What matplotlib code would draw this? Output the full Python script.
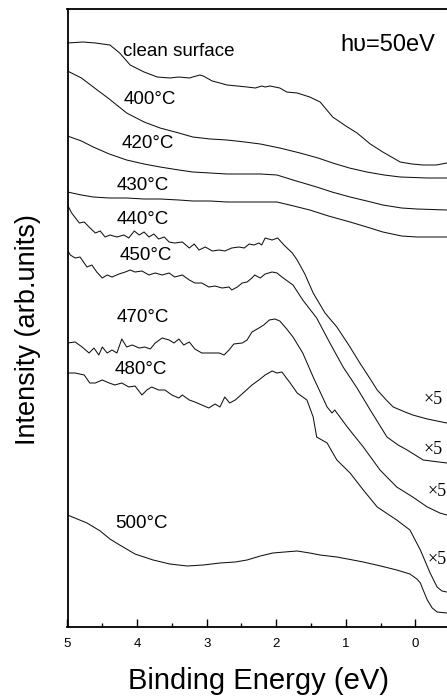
import matplotlib
matplotlib.use("Agg")
import matplotlib.pyplot as plt
from matplotlib.ticker import MultipleLocator

plt.rcParams['font.family'] = ['Liberation Sans', 'DejaVu Sans']

# ---- data: binding energy (eV) and intensity (arb. units, offset stacks) ----
e_clean = [5.00, 4.78, 4.60, 4.39, 4.25, 4.10, 3.90, 3.71, 3.53, 3.40, 3.25, 3.10, 3.05, 2.92, 2.81, 2.71,
           2.56, 2.42, 2.30, 2.21, 2.16, 2.09, 1.95, 1.85, 1.70, 1.52, 1.37, 1.19, 1.00, 0.84, 0.65,
           0.47, 0.22, 0.05, -0.11, -0.30, -0.45]
i_clean = [584, 585, 584, 582, 574, 562, 555, 550, 549, 550, 549, 552, 551, 546, 544, 542,
           541, 540, 539, 541, 540, 541, 539, 535, 534, 530, 525, 510, 501, 494, 483,
           475, 465, 463, 462, 462, 464]

e_400 = [5.00, 4.80, 4.63, 4.40, 4.15, 3.90, 3.67, 3.40, 3.20, 2.95, 2.71, 2.45, 2.23, 1.95, 1.66,
         1.40, 1.19, 0.95, 0.70, 0.45, 0.22, -0.17, -0.45]
i_400 = [556, 549, 540, 528, 514, 505, 499, 494, 490, 488, 487, 485, 483, 479, 474,
         469, 464, 459, 455, 452, 450, 449, 449]

e_420 = [5.00, 4.80, 4.63, 4.40, 4.15, 3.90, 3.67, 3.40, 3.20, 2.95, 2.71, 2.45, 2.23, 1.99, 1.76,
         1.42, 1.20, 0.94, 0.70, 0.47, 0.20, -0.02, -0.45]
i_420 = [491, 486, 480, 473, 467, 463, 460, 457, 455, 454, 453, 453, 453, 452, 447,
         440, 435, 430, 426, 422, 419, 418, 417]

e_430 = [5.00, 4.80, 4.63, 4.40, 4.15, 3.90, 3.67, 3.40, 3.20, 2.95, 2.71, 2.45, 2.23, 1.99, 1.75,
         1.52, 1.25, 0.94, 0.70, 0.47, 0.20, -0.02, -0.45]
i_430 = [435, 432, 430, 429, 429, 428, 428, 427, 426, 426, 425, 425, 425, 425, 421,
         417, 411, 405, 400, 395, 391, 390, 390]

e_440 = [5.00, 4.94, 4.83, 4.76, 4.69, 4.60, 4.53, 4.46, 4.39, 4.29, 4.19, 4.12, 4.04, 3.97, 3.90,
         3.83, 3.76, 3.69, 3.61, 3.54, 3.46, 3.35, 3.25, 3.18, 3.11, 3.02, 2.92, 2.82, 2.74, 2.64,
         2.54, 2.46, 2.39, 2.32, 2.25, 2.21, 2.16, 2.06, 1.98, 1.89, 1.77, 1.70, 1.59, 1.47, 1.30,
         1.13, 0.95, 0.80, 0.65, 0.55, 0.42, 0.32, 0.15, 0.04, -0.17, -0.45]
i_440 = [422, 414, 404, 405, 400, 394, 396, 390, 392, 390, 392, 389, 396, 392, 395,
         390, 393, 388, 390, 385, 384, 385, 379, 383, 377, 380, 376, 377, 376, 379,
         380, 379, 383, 382, 384, 382, 389, 387, 389, 382, 374, 367, 353, 334, 314,
         300, 281, 264, 248, 237, 227, 220, 215, 212, 208, 204]

e_450 = [5.00, 4.96, 4.89, 4.82, 4.72, 4.65, 4.58, 4.50, 4.43, 4.36, 4.26, 4.17, 4.10, 4.03, 3.93,
         3.83, 3.74, 3.64, 3.54, 3.46, 3.35, 3.25, 3.17, 3.07, 2.97, 2.88, 2.78, 2.68, 2.64, 2.56,
         2.49, 2.42, 2.35, 2.31, 2.23, 2.16, 2.06, 1.99, 1.92, 1.76, 1.62, 1.42, 1.23, 1.04, 0.84,
         0.65, 0.41, 0.25, 0.12, -0.11, -0.45]
i_450 = [377, 372, 369, 370, 360, 362, 355, 349, 352, 350, 353, 355, 357, 355, 356,
         352, 354, 352, 354, 350, 352, 347, 344, 344, 340, 341, 339, 340, 337, 340,
         344, 345, 349, 352, 349, 353, 355, 354, 350, 342, 327, 309, 284, 260, 239,
         217, 190, 182, 177, 167, 164]

e_470 = [5.00, 4.89, 4.79, 4.69, 4.62, 4.55, 4.50, 4.43, 4.36, 4.29, 4.22, 4.15, 4.07, 3.97, 3.89,
         3.81, 3.74, 3.64, 3.54, 3.47, 3.40, 3.33, 3.25, 3.17, 3.07, 2.92, 2.82, 2.75, 2.68, 2.61,
         2.49, 2.42, 2.35, 2.25, 2.18, 2.10, 2.02, 1.95, 1.85, 1.76, 1.62, 1.47, 1.27, 1.20, 1.16,
         0.98, 0.75, 0.51, 0.27, 0.04, -0.17, -0.35, -0.45]
i_470 = [284, 285, 280, 274, 279, 272, 280, 274, 277, 274, 288, 280, 282, 279, 280,
         278, 284, 289, 287, 284, 288, 282, 285, 278, 274, 274, 274, 272, 277, 283,
         284, 287, 295, 299, 302, 307, 308, 306, 298, 290, 274, 250, 220, 214, 217,
         200, 180, 157, 140, 130, 120, 114, 112]

e_480 = [5.00, 4.89, 4.76, 4.68, 4.60, 4.50, 4.40, 4.32, 4.22, 4.12, 4.03, 3.93, 3.86, 3.79, 3.69,
         3.60, 3.50, 3.40, 3.35, 3.25, 3.17, 3.07, 2.97, 2.88, 2.81, 2.74, 2.67, 2.59, 2.46, 2.35,
         2.25, 2.16, 2.06, 1.99, 1.92, 1.80, 1.70, 1.56, 1.47, 1.42, 1.27, 1.13, 0.94, 0.75,
         0.55, 0.27, 0.08, -0.07, -0.21, -0.31, -0.38, -0.45]
i_480 = [254, 254, 252, 244, 244, 247, 244, 242, 244, 240, 241, 232, 237, 240, 237,
         237, 232, 229, 232, 227, 225, 222, 219, 223, 220, 230, 224, 227, 235, 242,
         247, 252, 256, 254, 255, 244, 234, 227, 210, 190, 184, 167, 154, 137,
         120, 107, 97, 77, 54, 40, 36, 35]

e_500 = [5.00, 4.86, 4.72, 4.53, 4.39, 4.25, 4.03, 3.77, 3.53, 3.28, 3.05, 2.81, 2.59, 2.42, 2.23,
         2.05, 1.88, 1.70, 1.52, 1.37, 1.13, 0.90, 0.75, 0.50, 0.27, 0.08, -0.02, -0.07, -0.11,
         -0.17, -0.24, -0.31, -0.45]
i_500 = [112, 108, 104, 96, 88, 82, 73, 67, 63, 61, 62, 64, 65, 67, 71,
         74, 75, 76, 74, 72, 70, 67, 65, 61, 57, 53, 48, 44, 37,
         27, 19, 15, 14]

curve_labels = ["clean surface", "400°C", "420°C", "430°C", "440°C", "450°C", "470°C", "480°C", "500°C"]
label_e = [4.20, 4.20, 4.22, 4.29, 4.29, 4.25, 4.29, 4.32, 4.32]
label_i = [575, 527, 484, 442, 407, 372, 310, 257, 104]

scale_text = ["×5", "×5", "×5", "×5"]
scale_e = [-0.11, -0.11, -0.17, -0.17]
scale_i = [227, 177, 135, 68]

x_ticks = [5, 4, 3, 2, 1, 0]

# ---- figure ----
W, H = 447, 698
fig = plt.figure(figsize=(W / 100, H / 100), dpi=100)
ax_left, ax_right = 67.5, 447.0
ax_top, ax_bot = 8.5, 627.0
ax = fig.add_axes([ax_left / W, (H - ax_bot) / H, (ax_right - ax_left) / W, (ax_bot - ax_top) / H])

series = [(e_clean, i_clean), (e_400, i_400), (e_420, i_420), (e_430, i_430), (e_440, i_440),
          (e_450, i_450), (e_470, i_470), (e_480, i_480), (e_500, i_500)]
for e, i in series:
    ax.plot(e, i, color="#111111", lw=0.75)

for t, x, y in zip(curve_labels, label_e, label_i):
    ax.text(x, y, t, fontsize=13.5, ha="left", va="center", color="black")
for t, x, y in zip(scale_text, scale_e, scale_i):
    ax.text(x, y, t, fontsize=13, ha="left", va="center", color="black",
            family=["Liberation Serif", "DejaVu Serif"])

ax.text(1.08, 582, "hυ=50eV", fontsize=17, ha="left", va="center", color="black")

px_per_ev = 69.6
ax.set_xlim(5 + (ax_left - 67.5) / px_per_ev, 5 - (ax_right - 67.5) / px_per_ev)
ax.set_ylim(0, ax_bot - ax_top)

ax.set_xticks(x_ticks)
ax.set_xticklabels([str(t) for t in x_ticks])
ax.xaxis.set_minor_locator(MultipleLocator(0.5))
ax.tick_params(axis="x", which="major", direction="in", length=6, width=1.0, labelsize=9.5, pad=8)
ax.tick_params(axis="x", which="minor", direction="in", length=3, width=1.0)
ax.tick_params(axis="x", top=False)
ax.set_yticks([])

for s in ["left", "bottom", "top"]:
    ax.spines[s].set_linewidth(1.3)
ax.spines["right"].set_visible(False)

ax.set_xlabel("Binding Energy (eV)", fontsize=21)
ax.xaxis.label.set_va("center")
ax.xaxis.set_label_coords((259 - ax_left) / (ax_right - ax_left), (ax_bot - 681) / (ax_bot - ax_top))
ax.set_ylabel("Intensity (arb.units)", fontsize=19.5)
ax.yaxis.label.set_va("center")
ax.yaxis.set_label_coords((28 - ax_left) / (ax_right - ax_left), (ax_bot - 330) / (ax_bot - ax_top))

fig.savefig("out.png", dpi=100)
